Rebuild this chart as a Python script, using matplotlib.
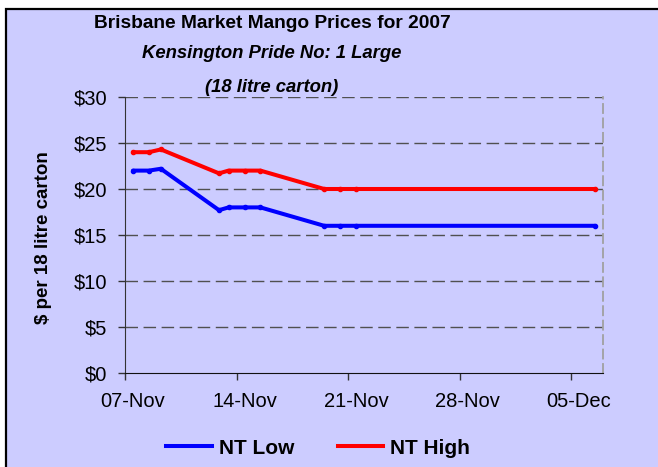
import numpy as np
import pandas as pd
import matplotlib
matplotlib.use("Agg")
import matplotlib.pyplot as plt
from matplotlib.patches import Rectangle
from matplotlib.lines import Line2D

plt.rcParams['font.family'] = ['Liberation Sans', 'DejaVu Sans']

# ---- data ----
# positions in days after 07-Nov-2007
day_pos = [0, 1, 1.75, 5.4, 6, 7, 8, 12, 13, 14, 29]
nt_low = [22, 22, 22.2, 17.7, 18, 18, 18, 16, 16, 16, 16]
nt_high = [24, 24, 24.3, 21.7, 22, 22, 22, 20, 20, 20, 20]
tick_dates = ["2007-11-07", "2007-11-14", "2007-11-21", "2007-11-28", "2007-12-05"]
y_ticks = [0, 5, 10, 15, 20, 25, 30]
y_ticklabels = ["$0", "$5", "$10", "$15", "$20", "$25", "$30"]

start = pd.Timestamp("2007-11-07")
x = np.array(day_pos, dtype=float)
tx = np.array([(pd.Timestamp(d) - start).days for d in tick_dates], dtype=float)
tick_labels = [pd.Timestamp(d).strftime("%d-%b") for d in tick_dates]

W, H = 658, 467
fig = plt.figure(figsize=(W / 100, H / 100), dpi=100, facecolor="white")
bg = "#CCCCFF"
bgax = fig.add_axes([0, 0, 1, 1], zorder=-5)
bgax.set_axis_off()
bgax.set_xlim(0, W)
bgax.set_ylim(H, 0)
bgax.add_patch(Rectangle((6, 9), W + 20, H + 20, facecolor=bg, edgecolor="black", linewidth=1.6))

ax = fig.add_axes([125 / W, 1 - 373 / H, (603 - 125) / W, (373 - 97) / H], zorder=1)
ax.set_facecolor(bg)

blue = "#0000FF"
red = "#FF0000"
ax.plot(x, nt_low, color=blue, lw=2.9, solid_capstyle="round", solid_joinstyle="round",
        marker="o", ms=3.0, zorder=3)
ax.plot(x, nt_high, color=red, lw=2.9, solid_capstyle="round", solid_joinstyle="round",
        marker="o", ms=3.0, zorder=3)

ax.set_xlim(-0.5, 29.5)
ax.set_ylim(0, 30)

ax.set_yticks(y_ticks)
ax.set_yticklabels(y_ticklabels, fontsize=14.5)
ax.tick_params(axis="y", direction="out", length=5, width=1, color="#333333", pad=8)

ax.set_xticks(tx - 0.5)
ax.set_xticklabels([""] * len(tx))
ax.set_xticks(tx, minor=True)
ax.set_xticklabels(tick_labels, minor=True, fontsize=14.5)
ax.tick_params(axis="x", which="major", direction="out", length=5, width=1, color="#333333")
ax.tick_params(axis="x", which="minor", length=0, pad=14)

for yv in y_ticks[1:]:
    ax.axhline(yv, color="#505050", lw=1, ls=(0, (9, 4)), zorder=1)

ax.spines["top"].set_visible(False)
ax.spines["right"].set_color("#A0A0A0")
ax.spines["right"].set_linestyle((0, (5, 3)))
ax.spines["right"].set_linewidth(1.3)
ax.spines["left"].set_color("#333333")
ax.spines["bottom"].set_color("#111111")

fig.text(44 / W, 1 - 238 / H, "$ per 18 litre carton", rotation=90, ha="center", va="center",
         fontsize=13.5, fontweight="bold")

tx_c = 272 / W
fig.text(tx_c, 1 - 28.5 / H, "Brisbane Market Mango Prices for 2007", ha="center", va="baseline",
         fontsize=13.8, fontweight="bold")
fig.text(tx_c, 1 - 58.5 / H, "Kensington Pride No: 1 Large", ha="center", va="baseline",
         fontsize=13.3, fontweight="bold", style="italic")
fig.text(tx_c, 1 - 92 / H, "(18 litre carton)", ha="center", va="baseline",
         fontsize=13.3, fontweight="bold", style="italic")

handles = [Line2D([], [], color=blue, lw=2.9), Line2D([], [], color=red, lw=2.9)]
fig.legend(handles, ["NT Low", "NT High"], loc="center", bbox_to_anchor=(318 / W, 1 - 448 / H),
           ncol=2, frameon=False, prop={"size": 15, "weight": "bold"}, handlelength=2.2,
           handletextpad=0.3, columnspacing=2.1)

fig.savefig("out.png", dpi=100, facecolor="white")
